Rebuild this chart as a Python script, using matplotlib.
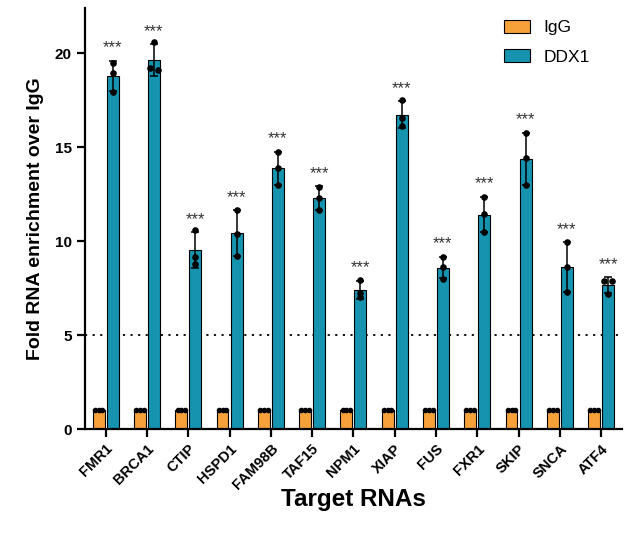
import numpy as np
import matplotlib
matplotlib.use("Agg")
import matplotlib.pyplot as plt
from matplotlib.patches import Patch

plt.rcParams['font.family'] = ['Liberation Sans', 'DejaVu Sans']

targets = ['FMR1', 'BRCA1', 'CTIP', 'HSPD1', 'FAM98B', 'TAF15', 'NPM1',
           'XIAP', 'FUS', 'FXR1', 'SKIP', 'SNCA', 'ATF4']

# three replicates per target
igg_reps = [[1.0, 1.0, 1.0]] * 13
ddx1_reps = [
    [19.5, 18.95, 17.95],
    [20.6, 19.2, 19.1],
    [10.6, 9.15, 8.8],
    [11.65, 10.4, 9.2],
    [14.75, 13.9, 13.0],
    [12.9, 12.3, 11.65],
    [7.95, 7.25, 7.0],
    [17.5, 16.55, 16.1],
    [9.13, 8.63, 8.0],
    [12.36, 11.42, 10.46],
    [15.76, 14.4, 13.0],
    [9.93, 8.63, 7.3],
    [7.9, 7.9, 7.18],
]
stars = ['***'] * 13
cutoff = 5

orange = '#F7A13B'
teal = '#1693AE'


def swarm(vals, step, tol):
    # spread replicates that sit on top of each other
    vals = np.asarray(vals)
    offs = np.zeros(len(vals))
    for i in range(len(vals)):
        close = [j for j in range(len(vals)) if abs(vals[j] - vals[i]) < tol]
        if len(close) > 1:
            k = close.index(i)
            offs[i] = (k - (len(close) - 1) / 2) * step
    return offs


fig = plt.figure(figsize=(6.27, 5.39), dpi=100)
ax = fig.add_axes([0.1356, 0.204, 0.856, 0.781])

x = np.arange(len(targets))
w = 0.29
d = 0.17

igg_mean = [np.mean(r) for r in igg_reps]
igg_sd = [np.std(r, ddof=1) for r in igg_reps]
ddx_mean = [np.mean(r) for r in ddx1_reps]
ddx_sd = [np.std(r, ddof=1) for r in ddx1_reps]

ax.bar(x - d, igg_mean, w, color=orange, edgecolor='black', linewidth=0.8, zorder=2)
ax.bar(x + d, ddx_mean, w, color=teal, edgecolor='black', linewidth=0.8, zorder=2)
ax.errorbar(x + d, ddx_mean, yerr=ddx_sd, fmt='none', ecolor='black',
            elinewidth=1.1, capsize=3, capthick=1.1, zorder=3)

for i in range(len(targets)):
    ax.scatter(x[i] - d + swarm(igg_reps[i], 0.09, 0.15), igg_reps[i],
               s=9, color='black', zorder=4)
    ax.scatter(x[i] + d + swarm(ddx1_reps[i], 0.2, 0.15), ddx1_reps[i],
               s=14, color='black', zorder=4)
    ax.annotate(stars[i], (x[i] + d, ddx_mean[i] + ddx_sd[i]),
                xytext=(0, 4), textcoords='offset points', ha='center',
                va='bottom', fontsize=12, color='#333333')

ax.axhline(cutoff, color='black', linestyle=(0, (1.2, 3)), linewidth=1.3, zorder=1)

ax.set_xlim(-0.5, len(targets) - 0.5)
ax.set_ylim(0, 22.4)
ax.set_yticks([0, 5, 10, 15, 20])
ax.set_xticks(x)
ax.set_xticklabels(targets, rotation=45, ha='right', rotation_mode='anchor',
                   fontsize=10.5, fontweight='bold')
for lab in ax.get_yticklabels():
    lab.set_fontweight('bold')
    lab.set_fontsize(11)

ax.spines['top'].set_visible(False)
ax.spines['right'].set_visible(False)
ax.spines['left'].set_linewidth(1.6)
ax.spines['bottom'].set_linewidth(1.6)
ax.tick_params(axis='both', width=1.6, length=6)
ax.tick_params(axis='x', pad=3)

ax.set_ylabel('Fold RNA enrichment over IgG', fontsize=14, fontweight='bold',
              labelpad=8)
ax.set_xlabel('Target RNAs', fontsize=17.5, fontweight='bold', labelpad=-3)

handles = [Patch(facecolor=orange, edgecolor='black', linewidth=0.8, label='IgG'),
           Patch(facecolor=teal, edgecolor='black', linewidth=0.8, label='DDX1')]
ax.legend(handles=handles, loc='upper right', frameon=False, fontsize=12.5,
          bbox_to_anchor=(0.97, 1.01), handlelength=1.5, handleheight=0.8,
          labelspacing=0.8, handletextpad=0.8)

fig.savefig('out.png', dpi=100)
